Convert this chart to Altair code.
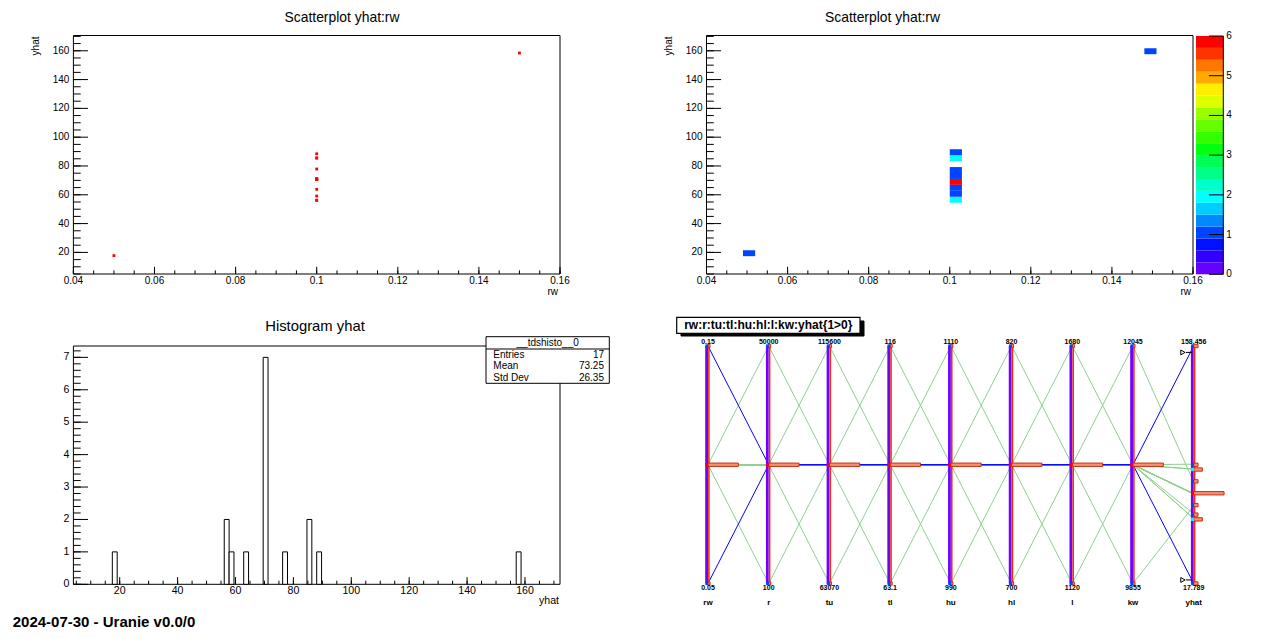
import json
import altair as alt
import pandas as pd

FONT = "Liberation Sans"

# ------------------------------------------------------------------ data (17 runs)
var_names = ["rw", "r", "tu", "tl", "hu", "hl", "l", "kw", "yhat"]
rw = [0.1, 0.05, 0.15, 0.1, 0.1, 0.1, 0.1, 0.1, 0.1, 0.1, 0.1, 0.1, 0.1, 0.1, 0.1, 0.1, 0.1]
r = [25050, 25050, 25050, 100, 50000, 25050, 25050, 25050, 25050, 25050, 25050, 25050, 25050, 25050, 25050, 25050, 25050]
tu = [89335, 89335, 89335, 89335, 89335, 63070, 115600, 89335, 89335, 89335, 89335, 89335, 89335, 89335, 89335, 89335, 89335]
tl = [89.55, 89.55, 89.55, 89.55, 89.55, 89.55, 89.55, 63.1, 116, 89.55, 89.55, 89.55, 89.55, 89.55, 89.55, 89.55, 89.55]
hu = [1050, 1050, 1050, 1050, 1050, 1050, 1050, 1050, 1050, 990, 1110, 1050, 1050, 1050, 1050, 1050, 1050]
hl = [760, 760, 760, 760, 760, 760, 760, 760, 760, 760, 760, 700, 820, 760, 760, 760, 760]
l = [1400, 1400, 1400, 1400, 1400, 1400, 1400, 1400, 1400, 1400, 1400, 1400, 1400, 1120, 1680, 1400, 1400]
kw = [10950, 10950, 10950, 10950, 10950, 10950, 10950, 10950, 10950, 10950, 10950, 10950, 10950, 10950, 10950, 9855, 12045]
yhat = [70.87, 17.789, 158.456, 71.04, 70.85, 70.87, 70.87, 70.71, 70.96, 56.21, 85.54, 85.54, 56.21, 88.47, 59.11, 63.82, 77.92]

# tick values / labels
sc_x_ticks = [0.04, 0.06, 0.08, 0.1, 0.12, 0.14, 0.16]
sc_x_labels = ["0.04", "0.06", "0.08", "0.1", "0.12", "0.14", "0.16"]
sc_y_ticks = [20, 40, 60, 80, 100, 120, 140, 160]
sc_y_labels = ["20", "40", "60", "80", "100", "120", "140", "160"]
hist_x_ticks = [20, 40, 60, 80, 100, 120, 140, 160]
hist_x_labels = ["20", "40", "60", "80", "100", "120", "140", "160"]
hist_y_ticks = [0, 1, 2, 3, 4, 5, 6, 7]
hist_y_labels = ["0", "1", "2", "3", "4", "5", "6", "7"]
cbar_ticks = [0, 1, 2, 3, 4, 5, 6]
cbar_labels = ["0", "1", "2", "3", "4", "5", "6"]
yhat_range_norm = [0.015, 0.973]

PAL = ["#6600ff", "#3300ff", "#0011ff", "#0044ff", "#0088ff", "#00ccff", "#00ffff",
       "#00ffcc", "#00ff88", "#00ff55", "#00ff11", "#33ff00", "#66ff00", "#99ff00",
       "#ddff00", "#ffee00", "#ffaa00", "#ff7700", "#ff3300", "#ff0000"]

wide = pd.DataFrame({"id": list(range(len(yhat))), "rw": rw, "r": r, "tu": tu, "tl": tl,
                     "hu": hu, "hl": hl, "l": l, "kw": kw, "yhat": yhat})
ONE = pd.DataFrame({"a": [0]})


def cscale():
    return alt.Scale(type="quantize", domain=[0, 6], range=PAL)


def lin(domain, rng):
    return alt.Scale(domain=domain, range=rng, nice=False, zero=False)


def xt_major(vals, xs, ybot, length):
    return alt.Chart(pd.DataFrame({"v": vals})).mark_rule(color="black", strokeWidth=1).encode(
        x=alt.X("v:Q", scale=xs, axis=None), y=alt.value(ybot), y2=alt.value(ybot - length))


def yt_major(vals, ys, xleft, length):
    return alt.Chart(pd.DataFrame({"v": vals})).mark_rule(color="black", strokeWidth=1).encode(
        y=alt.Y("v:Q", scale=ys, axis=None), x=alt.value(xleft), x2=alt.value(xleft + length))


def xt_minor(start, step, n, xs, ybot, length):
    return alt.Chart(alt.sequence(0, n + 1, as_="k")).transform_calculate(
        v=f"{start} + datum.k * {step}").mark_rule(color="black", strokeWidth=1).encode(
        x=alt.X("v:Q", scale=xs, axis=None), y=alt.value(ybot), y2=alt.value(ybot - length))


def yt_minor(start, step, n, ys, xleft, length):
    return alt.Chart(alt.sequence(0, n + 1, as_="k")).transform_calculate(
        v=f"{start} + datum.k * {step}").mark_rule(color="black", strokeWidth=1).encode(
        y=alt.Y("v:Q", scale=ys, axis=None), x=alt.value(xleft), x2=alt.value(xleft + length))


def xlab(vals, labs, xs, y, size=10):
    return alt.Chart(pd.DataFrame({"v": vals, "lab": labs})).mark_text(
        font=FONT, fontSize=size, align="center", baseline="middle", color="black").encode(
        x=alt.X("v:Q", scale=xs, axis=None), y=alt.value(y), text="lab:N")


def ylab(vals, labs, ys, x, size=10, align="right"):
    return alt.Chart(pd.DataFrame({"v": vals, "lab": labs})).mark_text(
        font=FONT, fontSize=size, align=align, baseline="middle", color="black").encode(
        y=alt.Y("v:Q", scale=ys, axis=None), x=alt.value(x), text="lab:N")


def vtext(txt, x, y, size=10, align="center", baseline="alphabetic", weight="normal", angle=0):
    return alt.Chart(pd.DataFrame({"t": [txt]})).mark_text(
        font=FONT, fontSize=size, align=align, baseline=baseline, fontWeight=weight,
        angle=angle, color="black").encode(x=alt.value(x), y=alt.value(y), text="t:N")


def vrect(x, x2, y, y2, fill="white", fill_opacity=0, stroke="black", sw=1):
    return alt.Chart(ONE).mark_rect(fill=fill, fillOpacity=fill_opacity, stroke=stroke,
                                    strokeWidth=sw).encode(
        x=alt.value(x), x2=alt.value(x2), y=alt.value(y), y2=alt.value(y2))


# ------------------------------------------------------------------ geometry (view px)
L1, R1, T1, B1 = 65.4, 552.0, 27.5, 266.0
L2, R2 = 698.5, 1185.0
T3, B3 = 338.0, 576.3
XT, XTm = 7.2, 3.6      # x-axis tick lengths
YT, YTm = 14.6, 7.3     # y-axis tick lengths

# ------------------------------------------------------------------ panel 1 : scatter
xs1 = lin([0.04, 0.16], [L1, R1])
ys1 = lin([5, 170.6], [B1, T1])
pts = alt.Chart(wide).mark_square(size=8, color="#ff0000", opacity=1).encode(
    x=alt.X("rw:Q", scale=xs1, axis=None), y=alt.Y("yhat:Q", scale=ys1, axis=None))
panel1 = alt.layer(
    pts,
    xt_minor(0.04, 0.005, 24, xs1, B1, XTm), xt_major(sc_x_ticks, xs1, B1, XT),
    yt_minor(5, 5, 33, ys1, L1, YTm), yt_major(sc_y_ticks, ys1, L1, YT),
    xlab(sc_x_ticks, sc_x_labels, xs1, 272.8), ylab(sc_y_ticks, sc_y_labels, ys1, L1 - 4),
)

# ------------------------------------------------------------------ panel 2 : 2D histogram
xs2 = lin([0.04, 0.16], [L2, R2])
ys2 = lin([5, 170.6], [B1, T1])
cells = alt.Chart(wide).transform_bin(
    "bx", "rw", bin=alt.Bin(extent=[0.04, 0.16], step=0.003, nice=False)
).transform_bin(
    "by", "yhat", bin=alt.Bin(extent=[5, 170], step=4.125, nice=False)
).transform_aggregate(
    n="count()", groupby=["bx", "bx_end", "by", "by_end"]
).mark_rect().encode(
    x=alt.X("bx:Q", scale=xs2, axis=None), x2="bx_end:Q",
    y=alt.Y("by:Q", scale=ys2, axis=None), y2="by_end:Q",
    color=alt.Color("n:Q", scale=cscale(), legend=None))
panel2 = alt.layer(
    cells,
    xt_minor(0.04, 0.005, 24, xs2, B1, XTm), xt_major(sc_x_ticks, xs2, B1, XT),
    yt_minor(5, 5, 33, ys2, L2, YTm), yt_major(sc_y_ticks, ys2, L2, YT),
    xlab(sc_x_ticks, sc_x_labels, xs2, 272.8), ylab(sc_y_ticks, sc_y_labels, ys2, L2 - 4),
)

# colour bar
CBL, CBR = 1188.0, 1215.3
ycb = lin([0, 6], [B1 + 0.3, T1 + 0.5])
bands = alt.Chart(alt.sequence(0, 20, as_="k")).transform_calculate(
    lo="datum.k * 0.3", hi="(datum.k + 1) * 0.3", mid="(datum.k + 0.5) * 0.3"
).mark_rect().encode(
    x=alt.value(CBL), x2=alt.value(CBR),
    y=alt.Y("lo:Q", scale=ycb, axis=None), y2="hi:Q",
    color=alt.Color("mid:Q", scale=cscale(), legend=None))
cb_ticks = alt.Chart(pd.DataFrame({"v": cbar_ticks})).mark_rule(color="black", strokeWidth=1).encode(
    y=alt.Y("v:Q", scale=ycb, axis=None), x=alt.value(CBR - 14.4), x2=alt.value(CBR))
cb_axis = alt.Chart(ONE).mark_rule(color="black", strokeWidth=1).encode(
    x=alt.value(CBR), y=alt.value(T1 + 0.5), y2=alt.value(B1 + 0.3))
panel_cb = alt.layer(bands, cb_ticks, cb_axis,
                     ylab(cbar_ticks, cbar_labels, ycb, CBR + 3, align="left"))

# ------------------------------------------------------------------ panel 3 : histogram
xs3 = lin([4.0, 172.1], [L1, R1])
ys3 = lin([0, 7.35], [B3, T3])
hist = alt.Chart(wide).transform_bin(
    "hb", "yhat", bin=alt.Bin(extent=[4.0, 172.1], step=1.681, nice=False)
).transform_aggregate(
    n="count()", groupby=["hb", "hb_end"]
).transform_calculate(
    z="0"
).mark_rect(fill="white", stroke="black", strokeWidth=1).encode(
    x=alt.X("hb:Q", scale=xs3, axis=None), x2="hb_end:Q",
    y=alt.Y("n:Q", scale=ys3, axis=None), y2="z:Q")
panel3 = alt.layer(
    hist,
    xt_minor(5, 5, 33, xs3, B3, XTm), xt_major(hist_x_ticks, xs3, B3, XT),
    yt_minor(0, 0.2, 36, ys3, L1, YTm), yt_major(hist_y_ticks, ys3, L1, YT),
    xlab(hist_x_ticks, hist_x_labels, xs3, 582.8, size=10.6),
    ylab(hist_y_ticks, hist_y_labels, ys3, L1 - 4, size=10.6),
)

# ------------------------------------------------------------------ panel 4 : parallel coordinates
AX0, AX8 = 700.0, 1185.7
AT, AB = 338.0, 575.5
xs4 = lin([0, 8], [AX0, AX8])
ys4 = lin([0, 1], [AB, AT])
idx_expr = f"indexof({json.dumps(var_names)}, datum.var)"
long_base = alt.Chart(wide).transform_calculate(
    sel="datum.rw != 0.1"
).transform_fold(
    var_names, as_=["var", "value"]
).transform_calculate(
    idx=idx_expr
).transform_joinaggregate(
    vmin="min(value)", vmax="max(value)", groupby=["var"]
).transform_calculate(
    norm="(datum.value - datum.vmin) / (datum.vmax - datum.vmin)"
)
X4 = alt.X("idx:Q", scale=xs4, axis=None)
Y4 = alt.Y("norm:Q", scale=ys4, axis=None)
lines_g = long_base.transform_filter("!datum.sel").mark_line(
    color="#8fd08f", strokeWidth=1).encode(x=X4, y=Y4, detail="id:N", order="idx:Q")
lines_b = long_base.transform_filter("datum.sel").mark_line(
    color="#0000ff", strokeWidth=1).encode(x=X4, y=Y4, detail="id:N", order="idx:Q")

per_var = long_base.transform_aggregate(
    amin="min(value)", amax="max(value)", groupby=["var", "idx"]
).transform_calculate(
    tmax="format(datum.amax, '.6~g')", tmin="format(datum.amin, '.6~g')"
)
strip = per_var.mark_rule(color="#7000ff", strokeWidth=2.8, xOffset=-1.4).encode(
    x=X4, y=alt.value(AT), y2=alt.value(AB))
redline = per_var.mark_rule(color="#ee3010", strokeWidth=1.6, xOffset=0.9).encode(
    x=X4, y=alt.value(AT), y2=alt.value(AB))

binned = long_base.transform_calculate(
    nb="round(datum.norm * 100) / 100"
).transform_aggregate(
    n="count()", groupby=["var", "idx", "nb"]
).transform_joinaggregate(
    nmax="max(n)", groupby=["var"]
).transform_calculate(
    xe="datum.idx + 0.5 * datum.n / datum.nmax", y0="datum.nb - 0.007", y1="datum.nb + 0.007"
)
hboxes = binned.mark_rect(fill="#ee9478", stroke="#d02a08", strokeWidth=1).encode(
    x=X4, x2="xe:Q", y=alt.Y("y0:Q", scale=ys4, axis=None), y2="y1:Q")
marks = binned.mark_rect(xOffset=-2.6, x2Offset=0.2).encode(
    x=X4, x2="idx:Q", y=alt.Y("y0:Q", scale=ys4, axis=None), y2="y1:Q",
    color=alt.Color("n:Q", scale=cscale(), legend=None))

top_lab = per_var.mark_text(font=FONT, fontSize=7, fontWeight="bold", align="center",
                            baseline="middle", color="black").encode(
    x=X4, y=alt.value(333.7), text="tmax:N")
bot_lab = per_var.mark_text(font=FONT, fontSize=7, fontWeight="bold", align="center",
                            baseline="middle", color="black").encode(
    x=X4, y=alt.value(580.3), text="tmin:N")
names = per_var.mark_text(font=FONT, fontSize=8, fontWeight="bold", align="center",
                          baseline="middle", color="black").encode(
    x=X4, y=alt.value(594.7), text="var:N")

rng_df = pd.DataFrame({"idx": [var_names.index("yhat")] * 2, "norm": yhat_range_norm})
rng_line = alt.Chart(rng_df).mark_rule(color="black", strokeWidth=1, xOffset=-8, x2Offset=-1.5).encode(
    x=X4, x2="idx:Q", y=Y4)
rng_tri = alt.Chart(rng_df).mark_point(shape="triangle-right", size=24, filled=True, fill="white",
                                       stroke="black", strokeWidth=1, opacity=1, xOffset=-10.8).encode(
    x=X4, y=Y4)

panel4 = alt.layer(lines_g, lines_b, strip, redline, hboxes, marks, top_lab, bot_lab, names,
                   rng_line, rng_tri)

# ------------------------------------------------------------------ stats box
stats = alt.Chart(wide).transform_aggregate(
    cnt="count()", mu="mean(yhat)", sd="stdevp(yhat)"
).transform_calculate(
    t_cnt="format(datum.cnt, 'd')", t_mu="format(datum.mu, '.2f')", t_sd="format(datum.sd, '.2f')"
)


def stat_val(field, y):
    return stats.mark_text(font=FONT, fontSize=10, align="right", baseline="middle",
                           color="black").encode(x=alt.value(596.0), y=alt.value(y), text=f"{field}:N")


SBX0, SBX1, SBY0, SBY1 = 478.0, 601.3, 328.7, 375.3
stats_layers = [
    vrect(SBX0, SBX1, SBY0, SBY1, fill="white", fill_opacity=1),
    alt.Chart(ONE).mark_rule(color="black", strokeWidth=1).encode(
        x=alt.value(SBX0), x2=alt.value(SBX1), y=alt.value(341.0)),
    vtext("__tdshisto__0", (SBX0 + SBX1) / 2, 335.0, size=10, baseline="middle"),
    vtext("Entries", 485.3, 346.7, size=10, align="left", baseline="middle"),
    vtext("Mean", 485.3, 358.1, size=10, align="left", baseline="middle"),
    vtext("Std Dev", 485.3, 369.5, size=10, align="left", baseline="middle"),
    stat_val("t_cnt", 346.7), stat_val("t_mu", 358.1), stat_val("t_sd", 369.5),
]

# ------------------------------------------------------------------ frames, titles, texts
frames = [
    vrect(L1, R1, T1, B1),
    vrect(L2, R2, T1, B1),
    vrect(L1, R1, T3, B3),
]
texts = [
    vtext("Scatterplot yhat:rw", 334.0, 13.7, size=13.9),
    vtext("Scatterplot yhat:rw", 874.5, 13.7, size=13.9),
    vtext("Histogram yhat", 307.0, 322.6, size=14.8),
    vtext("rw", R1 - 2, 284.0, size=10, align="right", baseline="middle"),
    vtext("rw", R2 - 2, 284.0, size=10, align="right", baseline="middle"),
    vtext("yhat", R1 - 1, 593.0, size=10.6, align="right", baseline="middle"),
    vtext("yhat", 27.5, 28.5, size=10, align="right", baseline="middle", angle=270),
    vtext("yhat", 660.5, 28.5, size=10, align="right", baseline="middle", angle=270),
    vtext("2024-07-30 - Uranie v0.0/0", 4.7, 618.5, size=15, align="left", weight="bold"),
]
title_box = [
    vrect(673.0, 856.0, 313.0, 328.0, fill="black", fill_opacity=1, stroke="black"),
    vrect(668.7, 852.0, 309.3, 325.3, fill="white", fill_opacity=1, stroke="black", sw=1.2),
    vtext("rw:r:tu:tl:hu:hl:l:kw:yhat{1>0}", 760.3, 321.3, size=12, weight="bold"),
]

chart = alt.layer(
    *frames, panel1, panel2, panel_cb, panel3, panel4, *stats_layers, *title_box, *texts
).resolve_scale(
    x="independent", y="independent", color="independent"
).properties(
    width=1250, height=623, padding=0, background="white",
    autosize=alt.AutoSizeParams(type="none")
).configure_view(strokeWidth=0)

chart.save("out.html", embed_options={"renderer": "svg", "actions": False})
